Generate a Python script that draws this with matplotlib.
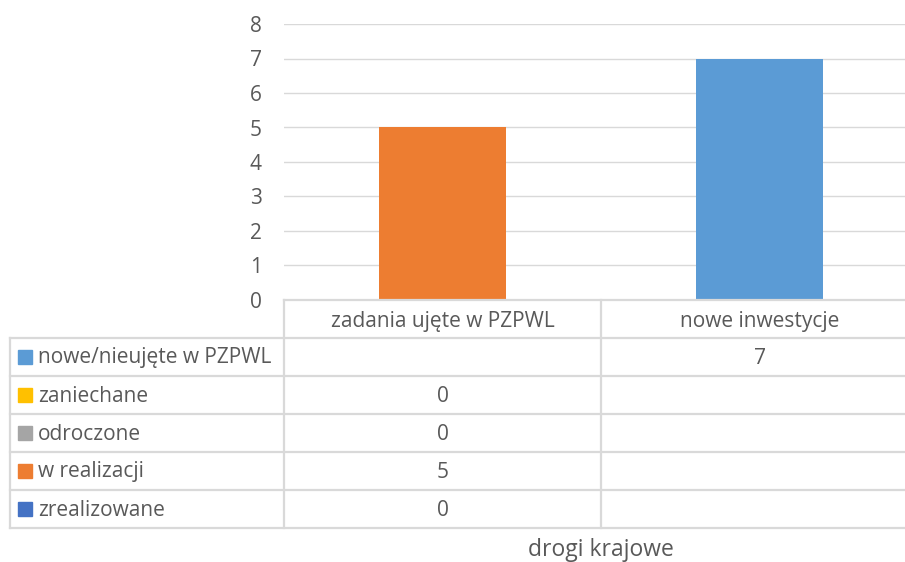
import matplotlib
matplotlib.use("Agg")
import matplotlib.pyplot as plt
import numpy as np

categories = ["zadania ujęte w PZPWL", "nowe inwestycje"]
series_names = ["zrealizowane", "w realizacji", "odroczone", "zaniechane", "nowe/nieujęte w PZPWL"]
zrealizowane = [0, None]
w_realizacji = [5, None]
odroczone = [0, None]
zaniechane = [0, None]
nowe = [None, 7]
series_values = [zrealizowane, w_realizacji, odroczone, zaniechane, nowe]
series_colors = ["#4472C4", "#ED7D31", "#A5A5A5", "#FFC000", "#5B9BD5"]
y_ticks = [0, 1, 2, 3, 4, 5, 6, 7, 8]
axis_title = "drogi krajowe"

plt.rcParams['font.family'] = ['Open Sans', 'DejaVu Sans']
TXT = "#595959"
GRID = "#D9D9D9"
FS = 15

W, H = 905, 562
fig = plt.figure(figsize=(W / 100, H / 100), dpi=100)

# pixel layout
px_left, px_right, px_top, px_bottom = 284, 918, 24, 300
ax = fig.add_axes([px_left / W, 1 - px_bottom / H, (px_right - px_left) / W, (px_bottom - px_top) / H])
x = np.arange(len(categories))
bottom = np.zeros(len(categories))
for vals, col in zip(series_values, series_colors):
    v = np.array([0 if a is None else a for a in vals], dtype=float)
    ax.bar(x, v, width=0.4, bottom=bottom, color=col, zorder=3)
    bottom += v
ax.set_xlim(-0.5, len(categories) - 0.5)
ax.set_ylim(0, 8)
ax.set_yticks(y_ticks)
ax.set_yticklabels([str(t) for t in y_ticks], fontsize=FS, color=TXT)
ax.tick_params(axis='y', length=0, pad=16)
ax.set_xticks([])
ax.grid(axis='y', color=GRID, linewidth=1, zorder=0)
for s in ax.spines.values():
    s.set_visible(False)

# table overlay in pixel coordinates
tab = fig.add_axes([0, 0, 1, 1], facecolor='none')
tab.set_xlim(0, W)
tab.set_ylim(H, 0)
tab.axis('off')

row_h = 38
header_top = 300
first_row = 338
n_rows = len(series_names)
tab_left = 10
col_edges = [px_left + i * (px_right - px_left) / len(categories) for i in range(len(categories) + 1)]
lw = 1.6
tab.plot([px_left, px_right], [header_top, header_top], color=GRID, lw=lw)
for i in range(n_rows + 1):
    yy = first_row + i * row_h
    tab.plot([tab_left, px_right], [yy, yy], color=GRID, lw=lw)
tab.plot([tab_left, tab_left], [first_row, first_row + n_rows * row_h], color=GRID, lw=lw)
for ce in col_edges:
    tab.plot([ce, ce], [header_top, first_row + n_rows * row_h], color=GRID, lw=lw)

for i, c in enumerate(categories):
    cx = (col_edges[i] + col_edges[i + 1]) / 2
    tab.text(cx, (header_top + first_row) / 2 + 2, c, ha='center', va='center', fontsize=FS, color=TXT)

order = list(range(n_rows))[::-1]
for r, si in enumerate(order):
    yc = first_row + r * row_h + row_h / 2
    tab.add_patch(plt.Rectangle((18, yc - 7), 14, 14, color=series_colors[si]))
    tab.text(38, yc + 1, series_names[si], ha='left', va='center', fontsize=FS, color=TXT)
    for j, v in enumerate(series_values[si]):
        if v is not None:
            cx = (col_edges[j] + col_edges[j + 1]) / 2
            tab.text(cx, yc + 1, str(v), ha='center', va='center', fontsize=FS, color=TXT)

tab.text((px_left + px_right) / 2, 550, axis_title, ha='center', va='center', fontsize=16.5, color=TXT)

fig.savefig("out.png", dpi=100)
